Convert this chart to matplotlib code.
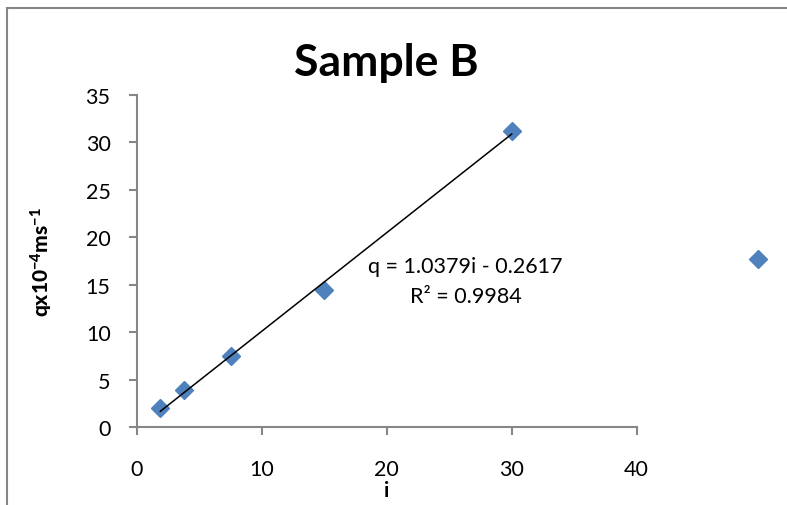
import matplotlib
matplotlib.use("Agg")
import matplotlib.pyplot as plt
from matplotlib.patches import Rectangle
import numpy as np

plt.rcParams['font.family'] = ['Lato', 'DejaVu Sans']
plt.rcParams['mathtext.fontset'] = 'custom'
plt.rcParams['mathtext.rm'] = 'Lato'
plt.rcParams['mathtext.bf'] = 'Lato:weight=black'

i_vals = [1.875, 3.75, 7.5, 15.0, 30.0]
q_vals = [2.0, 3.9, 7.5, 14.5, 31.2]
outlier_i = [49.7]
outlier_q = [17.7]
slope = 1.0379
intercept = -0.2617
r2 = 0.9984
x_ticks = [0, 10, 20, 30, 40]
y_ticks = [0, 5, 10, 15, 20, 25, 30, 35]

fig = plt.figure(figsize=(7.87, 5.06), dpi=100)
ax = fig.add_axes([0.174, 0.1536, 0.635, 0.657])

gray = '#868686'
blue = '#4F81BD'

ax.plot(i_vals + outlier_i, q_vals + outlier_q, linestyle='none', marker='D',
        markersize=9.5, color=blue, clip_on=False, zorder=3)
xl = np.array([min(i_vals), max(i_vals)])
ax.plot(xl, slope * xl + intercept, color='black', lw=1.1, zorder=4)

ax.set_xlim(0, 40)
ax.set_ylim(0, 35)
ax.set_xticks(x_ticks)
ax.set_yticks(y_ticks)
for s in ['top', 'right']:
    ax.spines[s].set_visible(False)
for s in ['left', 'bottom']:
    ax.spines[s].set_color(gray)
    ax.spines[s].set_linewidth(1.5)
ax.tick_params(axis='both', direction='out', length=6, width=1.5, color=gray,
               labelsize=15.5)
ax.tick_params(axis='x', pad=17)
ax.tick_params(axis='y', pad=13)

ax.set_title('Sample B', fontsize=32, fontweight='bold', pad=14)
ax.set_xlabel('i', fontsize=15, fontweight='bold', va='center')
ax.xaxis.set_label_coords(0.5, -0.19)
ax.set_ylabel(r'$\mathbf{qx10^{-4}ms^{-1}}$', fontsize=15, va='center')
ax.yaxis.set_label_coords(-0.19, 0.5)

ax.text(26.3, 17.0, f'q = {slope}i - {abs(intercept)}', fontsize=15.5, ha='center', va='center')
ax.text(26.3, 13.8, f'R² = {r2}', fontsize=15.5, ha='center', va='center')

fig.patches.append(Rectangle((7/787, -0.2), 1.5, 1.2 - 9/506, transform=fig.transFigure,
                             fill=False, edgecolor=gray, lw=1.5, clip_on=False))

fig.savefig('out.png', dpi=100)
